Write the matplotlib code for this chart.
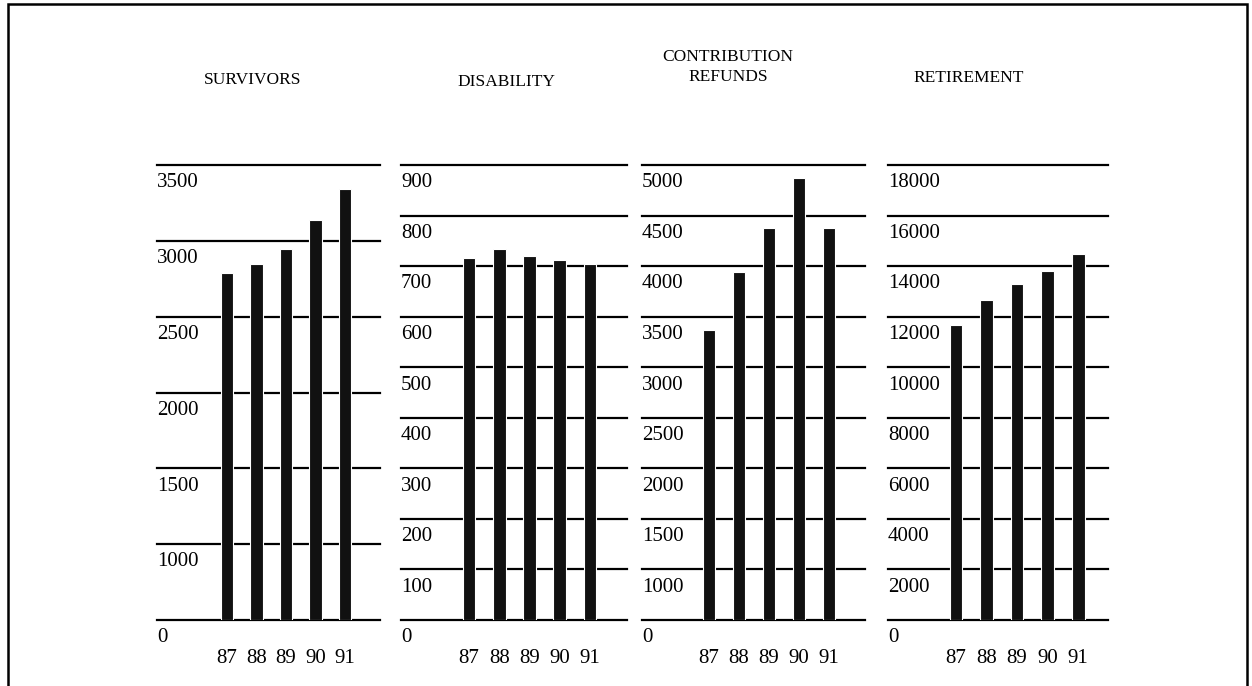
import numpy as np
import matplotlib.pyplot as plt
from matplotlib.patches import Rectangle
from matplotlib.transforms import blended_transform_factory, offset_copy

plt.rc('font', family='Liberation Serif', size=15)

years = ['87', '88', '89', '90', '91']

survivors = [2790, 2845, 2945, 3140, 3340]
disability = [716, 733, 720, 712, 704]
refunds = [3365, 3940, 4380, 4870, 4380]
retirement = [11670, 12670, 13290, 13790, 14490]

survivors_ticks = [0, 1000, 1500, 2000, 2500, 3000, 3500]
disability_ticks = [0, 100, 200, 300, 400, 500, 600, 700, 800, 900]
refunds_ticks = [0, 1000, 1500, 2000, 2500, 3000, 3500, 4000, 4500, 5000]
retirement_ticks = [0, 2000, 4000, 6000, 8000, 10000, 12000, 14000, 16000, 18000]

# title, values, ticks, axes left/right (px), xlim, title centre (px)
panels = [
    ('SURVIVORS', survivors, survivors_ticks, 157, 380, (-2.37, 5.19), (253, 80)),
    ('DISABILITY', disability, disability_ticks, 401, 627, (-2.25, 5.22), (506, 82)),
    ('CONTRIBUTION\nREFUNDS', refunds, refunds_ticks, 642, 865, (-2.23, 5.2), (728, 67)),
    ('RETIREMENT', retirement, retirement_ticks, 888, 1108, (-2.23, 4.98), (969, 78)),
]

W, H = 1252, 686
fig = plt.figure(figsize=(W / 100, H / 100), dpi=100)
fig.patch.set_facecolor('white')

bottom = 1 - 620 / H
height = (620 - 165) / H

for title, vals, ticks, l, r, xlim, tpos in panels:
    ax = fig.add_axes([l / W, bottom, (r - l) / W, height])
    idx = np.arange(len(ticks), dtype=float)
    tk = np.array(ticks, dtype=float)

    # the printed scale is evenly spaced per tick, even where the step changes
    def fwd(v, tk=tk, idx=idx):
        return np.interp(v, tk, idx)

    def inv(p, tk=tk, idx=idx):
        return np.interp(p, idx, tk)

    ax.set_yscale('function', functions=(fwd, inv))
    ax.set_ylim(0, ticks[-1])
    ax.set_xlim(*xlim)

    for t in ticks:
        ax.axhline(t, color='black', lw=1.6, zorder=1, clip_on=False)

    ax.bar(range(len(years)), vals, width=0.42, color='#111111',
           edgecolor='white', linewidth=0.8, zorder=2)

    trans = blended_transform_factory(ax.transAxes, ax.transData)
    trans = offset_copy(trans, fig=fig, x=0, y=-6, units='points')
    for t in ticks:
        ax.text(0.0, t, str(t), transform=trans, ha='left', va='top',
                fontsize=15, zorder=3)

    ax.set_xticks(range(len(years)), years)
    ax.tick_params(axis='x', length=0, pad=21, labelsize=15)
    ax.tick_params(axis='y', left=False, labelleft=False)
    ax.yaxis.set_minor_locator(plt.NullLocator())
    for s in ax.spines.values():
        s.set_visible(False)
    ax.patch.set_alpha(0)

    fig.text(tpos[0] / W, 1 - tpos[1] / H, title, ha='center', va='center',
             fontsize=12.5, linespacing=1.3)

# frame of the scanned page
fig.add_artist(Rectangle((8 / W, -0.05), (1247 - 8) / W, 1.05 - 4 / H,
                         transform=fig.transFigure, fill=False,
                         lw=1.8, edgecolor='black', clip_on=False))

fig.savefig('out.png', dpi=100)
